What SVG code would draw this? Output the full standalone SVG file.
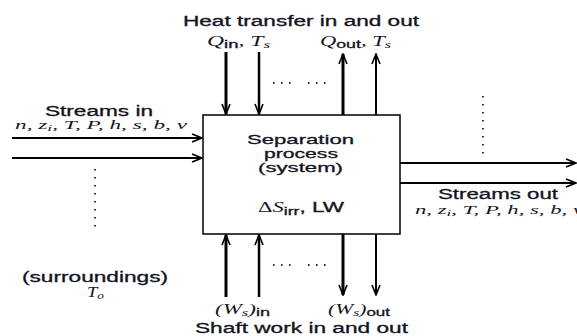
<svg xmlns="http://www.w3.org/2000/svg" width="577" height="336" viewBox="0 0 577 336">
<style>
.lbl{font-family:"Liberation Sans","Noto Sans",Arial,sans-serif;font-size:14px;fill:#14141f;stroke:#14141f;stroke-width:0.3}
.math{font-family:"Liberation Serif","Times New Roman",serif;font-style:italic;font-size:14px;fill:#14141f}
.sub{font-family:"Liberation Sans",Arial,sans-serif;font-style:normal;font-size:11px}
.msub{font-size:10px}
.ln{stroke:#000;fill:none}
.dots{stroke:#333;stroke-width:2;stroke-dasharray:1.6 6.4;fill:none}
</style>
<defs>
<marker id="ah" viewBox="0 0 12 10" markerWidth="12" markerHeight="10" refX="11" refY="5" orient="auto" markerUnits="userSpaceOnUse">
<path d="M1,1 L11,5 L1,9" fill="none" stroke="#000" stroke-width="1.6"/>
</marker>
</defs>
<rect width="577" height="336" fill="#fff"/>

<g id="system">
<rect x="203" y="115" width="197" height="119" fill="#fff" stroke="#000" stroke-width="1.5"/>
<text class="lbl" x="247" y="144" style="font-size:13px" textLength="107" lengthAdjust="spacingAndGlyphs">Separation</text>
<text class="lbl" x="264" y="158" style="font-size:13px" textLength="74" lengthAdjust="spacingAndGlyphs">process</text>
<text class="lbl" x="258" y="172" style="font-size:13px" textLength="85" lengthAdjust="spacingAndGlyphs">(system)</text>
<text x="258" y="212" textLength="86" lengthAdjust="spacingAndGlyphs"><tspan class="lbl" style="font-family:'Liberation Serif',serif;stroke-width:0">Δ</tspan><tspan class="math">S</tspan><tspan class="lbl sub" dy="3">irr</tspan><tspan class="lbl" dy="-3">, LW</tspan></text>
</g>

<g id="connectors">
<line class="ln" x1="12" y1="138" x2="202" y2="138" stroke-width="2" marker-end="url(#ah)"/>
<line class="ln" x1="12" y1="158" x2="202" y2="158" stroke-width="2" marker-end="url(#ah)"/>
<line class="ln" x1="400" y1="163" x2="576" y2="163" stroke-width="2" marker-end="url(#ah)"/>
<line class="ln" x1="400" y1="183" x2="576" y2="183" stroke-width="2" marker-end="url(#ah)"/>
<line class="ln" x1="226" y1="52" x2="226" y2="114" stroke-width="3" marker-end="url(#ah)"/>
<line class="ln" x1="259" y1="52" x2="259" y2="114" stroke-width="2.5" marker-end="url(#ah)"/>
<line class="ln" x1="343" y1="115" x2="343" y2="54" stroke-width="3" marker-end="url(#ah)"/>
<line class="ln" x1="376" y1="115" x2="376" y2="54" stroke-width="2" marker-end="url(#ah)"/>
<line class="ln" x1="226" y1="297" x2="226" y2="235" stroke-width="3" marker-end="url(#ah)"/>
<line class="ln" x1="259" y1="297" x2="259" y2="235" stroke-width="2.5" marker-end="url(#ah)"/>
<line class="ln" x1="343" y1="234" x2="343" y2="295" stroke-width="3" marker-end="url(#ah)"/>
<line class="ln" x1="376" y1="234" x2="376" y2="295" stroke-width="2" marker-end="url(#ah)"/>
</g>

<g id="ellipses">
<line class="dots" x1="273" y1="83" x2="292" y2="83"/>
<line class="dots" x1="308" y1="83" x2="329" y2="83"/>
<line class="dots" x1="273" y1="265" x2="292" y2="265"/>
<line class="dots" x1="308" y1="265" x2="329" y2="265"/>
<line class="dots" x1="95" y1="169" x2="95" y2="228"/>
<line class="dots" x1="483" y1="96" x2="483" y2="155"/>
</g>

<g id="heat">
<text class="lbl" x="183" y="26" textLength="236" lengthAdjust="spacingAndGlyphs">Heat transfer in and out</text>
<text x="207" y="46" textLength="63" lengthAdjust="spacingAndGlyphs"><tspan class="math">Q</tspan><tspan class="lbl sub" dy="2">in</tspan><tspan class="math" dy="-2">, T</tspan><tspan class="math msub" dy="2">s</tspan></text>
<text x="320" y="46" textLength="71" lengthAdjust="spacingAndGlyphs"><tspan class="math">Q</tspan><tspan class="lbl sub" dy="2">out</tspan><tspan class="math" dy="-2">, T</tspan><tspan class="math msub" dy="2">s</tspan></text>
</g>

<g id="streams-in">
<text class="lbl" x="45" y="116" textLength="108" lengthAdjust="spacingAndGlyphs">Streams in</text>
<text x="15" y="129" textLength="172" lengthAdjust="spacingAndGlyphs"><tspan class="math" style="font-size:12px">n, z</tspan><tspan class="math msub" dy="2" style="font-size:9px">i</tspan><tspan class="math" dy="-2" style="font-size:12px">, T, P, h, s, b, v</tspan></text>
</g>

<g id="streams-out">
<text class="lbl" x="438" y="199" textLength="120" lengthAdjust="spacingAndGlyphs">Streams out</text>
<text x="415" y="214" textLength="168" lengthAdjust="spacingAndGlyphs"><tspan class="math" style="font-size:12px">n, z</tspan><tspan class="math msub" dy="2" style="font-size:9px">i</tspan><tspan class="math" dy="-2" style="font-size:12px">, T, P, h, s, b, v</tspan></text>
</g>

<g id="surroundings">
<text class="lbl" x="22" y="282" textLength="146" lengthAdjust="spacingAndGlyphs">(surroundings)</text>
<text x="87" y="297" textLength="17" lengthAdjust="spacingAndGlyphs"><tspan class="math">T</tspan><tspan class="math msub" dy="2">o</tspan></text>
</g>

<g id="shaft">
<text x="215" y="314" textLength="55" lengthAdjust="spacingAndGlyphs"><tspan class="math">(W</tspan><tspan class="math msub" dy="2">s</tspan><tspan class="math" dy="-2">)</tspan><tspan class="lbl sub" dy="2">in</tspan></text>
<text x="328" y="314" textLength="62" lengthAdjust="spacingAndGlyphs"><tspan class="math">(W</tspan><tspan class="math msub" dy="2">s</tspan><tspan class="math" dy="-2">)</tspan><tspan class="lbl sub" dy="2">out</tspan></text>
<text class="lbl" x="195" y="333" textLength="213" lengthAdjust="spacingAndGlyphs">Shaft work in and out</text>
</g>
</svg>
